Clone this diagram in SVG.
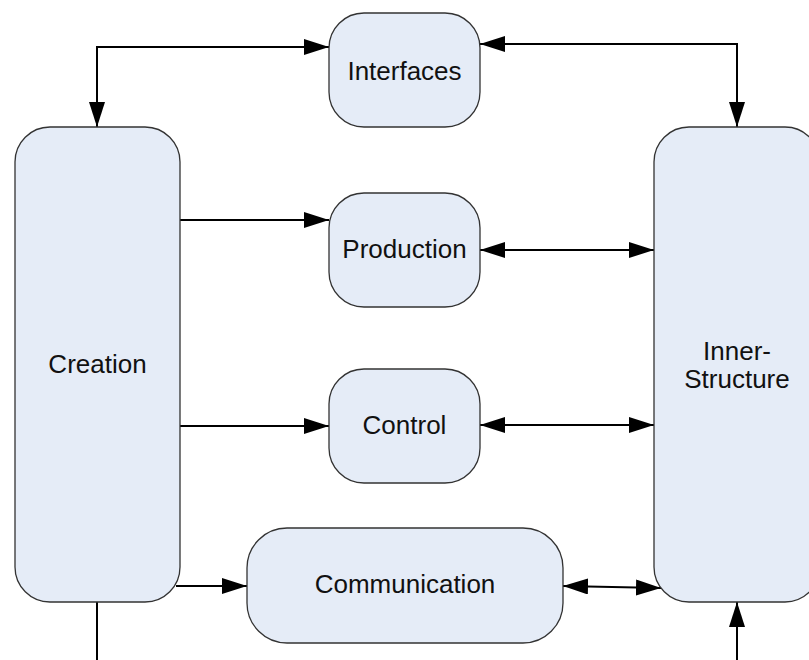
<svg xmlns="http://www.w3.org/2000/svg" width="809" height="660" viewBox="0 0 809 660">
  <style>
    .box { fill: #e5ecf7; stroke: #333; stroke-width: 1.3; }
    .lbl { font-family: "Liberation Sans", Arial, sans-serif; font-size: 26px; fill: #111; text-anchor: middle; }
    .wire { fill: none; stroke: #000; stroke-width: 2; }
    .both { marker-start: url(#head); marker-end: url(#head); }
    .fwd { marker-end: url(#head); }
  </style>
  <defs>
    <marker id="head" markerUnits="userSpaceOnUse" markerWidth="26" markerHeight="17" refX="25" refY="8" orient="auto-start-reverse">
      <path d="M0,0 L25,8 L0,16 z" fill="#000"/>
    </marker>
  </defs>
  <rect width="809" height="660" fill="#fff"/>

  <g id="connectors">
    <path class="wire both" d="M329,47 H97 V127"/>
    <path class="wire both" d="M480,44 H737 V127"/>
    <path class="wire fwd" d="M180,220 H329"/>
    <path class="wire both" d="M480,250 H654"/>
    <path class="wire fwd" d="M180,426 H329"/>
    <path class="wire both" d="M480,425 H654"/>
    <path class="wire fwd" d="M176,586 H247"/>
    <path class="wire both" d="M563,586 L661,588"/>
    <path class="wire" d="M97,602 V660"/>
    <path class="wire fwd" d="M737,660 V602"/>
  </g>

  <g id="creation">
    <rect class="box" x="15" y="127" width="165" height="475" rx="35" ry="35"/>
    <text class="lbl" x="97.5" y="373">Creation</text>
  </g>
  <g id="interfaces">
    <rect class="box" x="329" y="13" width="151" height="114" rx="35" ry="35"/>
    <text class="lbl" x="404.5" y="80">Interfaces</text>
  </g>
  <g id="production">
    <rect class="box" x="329" y="193" width="151" height="114" rx="35" ry="35"/>
    <text class="lbl" x="404.5" y="258">Production</text>
  </g>
  <g id="control">
    <rect class="box" x="329" y="369" width="151" height="114" rx="35" ry="35"/>
    <text class="lbl" x="404.5" y="434">Control</text>
  </g>
  <g id="communication">
    <rect class="box" x="247" y="528" width="316" height="115" rx="40" ry="40"/>
    <text class="lbl" x="405" y="593">Communication</text>
  </g>
  <g id="inner-structure">
    <rect class="box" x="654" y="127" width="166" height="475" rx="35" ry="35"/>
    <text class="lbl" x="737" y="360">Inner-</text>
    <text class="lbl" x="737" y="388">Structure</text>
  </g>
</svg>
